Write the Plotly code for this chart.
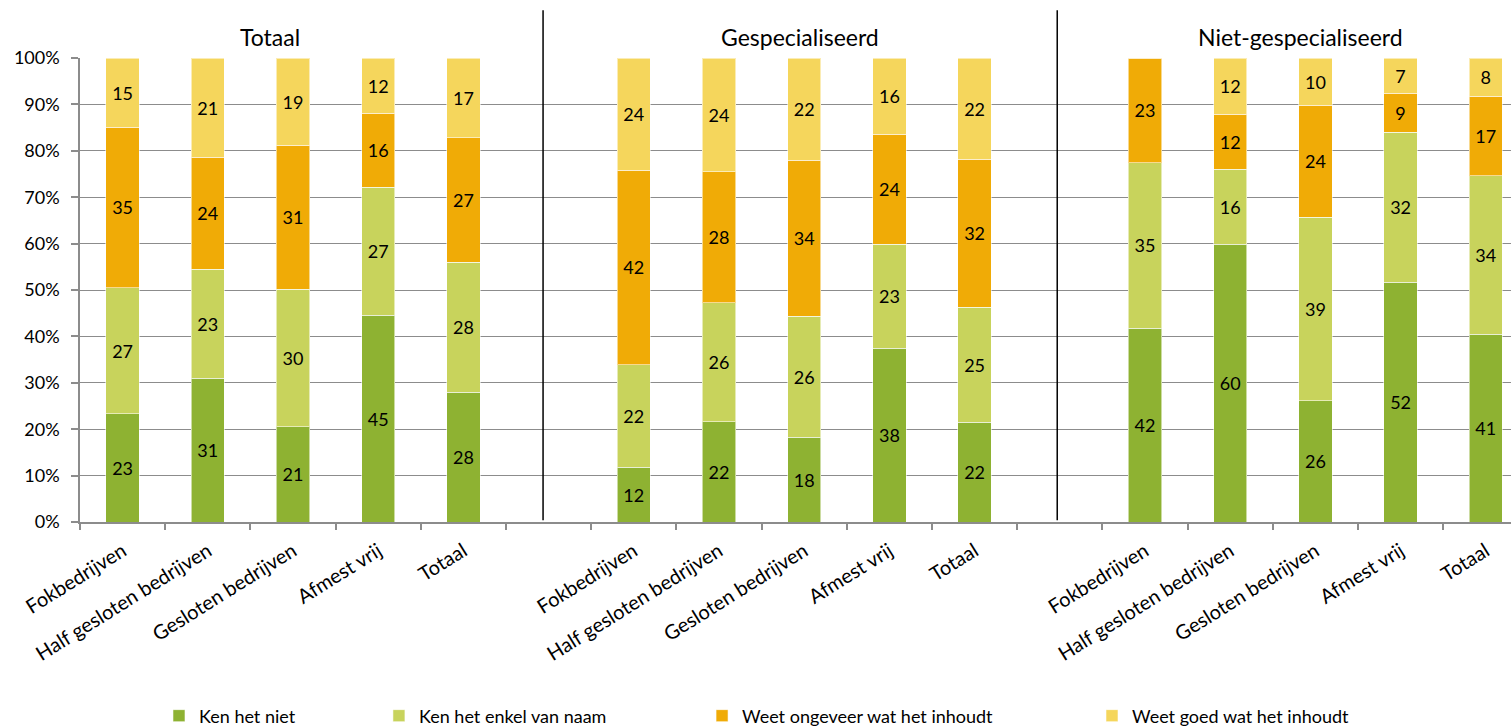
import plotly.graph_objects as go

# ---- data ----
groups = ["Totaal", "Gespecialiseerd", "Niet-gespecialiseerd"]
bedrijven = ["Fokbedrijven", "Half gesloten bedrijven", "Gesloten bedrijven", "Afmest vrij", "Totaal"]

series_names = ["Ken het niet", "Ken het enkel van naam", "Weet ongeveer wat het inhoudt", "Weet goed wat het inhoudt"]
series_colors = ["#8EB232", "#C8D35C", "#F0AB06", "#F5D65C"]

# values per group, order of bedrijven
ken_niet = {"Totaal": [23.3, 31.0, 20.5, 44.6, 28.0],
            "Gespecialiseerd": [11.8, 21.6, 18.3, 37.4, 21.5],
            "Niet-gespecialiseerd": [41.8, 59.9, 26.1, 51.7, 40.5]}
ken_naam = {"Totaal": [27.2, 23.5, 29.7, 27.5, 28.0],
            "Gespecialiseerd": [22.1, 25.7, 26.0, 22.5, 24.8],
            "Niet-gespecialiseerd": [35.6, 16.1, 39.6, 32.3, 34.1]}
weet_ong = {"Totaal": [34.6, 24.1, 31.0, 16.0, 26.8],
            "Gespecialiseerd": [41.9, 28.2, 33.7, 23.7, 31.9],
            "Niet-gespecialiseerd": [22.6, 11.9, 24.1, 8.4, 17.2]}
weet_goed = {"Totaal": [14.9, 21.4, 18.8, 11.9, 17.2],
             "Gespecialiseerd": [24.2, 24.5, 22.0, 16.4, 21.8],
             "Niet-gespecialiseerd": [0.0, 12.1, 10.2, 7.6, 8.2]}

# printed labels
lab_ken_niet = {"Totaal": ["23", "31", "21", "45", "28"],
                "Gespecialiseerd": ["12", "22", "18", "38", "22"],
                "Niet-gespecialiseerd": ["42", "60", "26", "52", "41"]}
lab_ken_naam = {"Totaal": ["27", "23", "30", "27", "28"],
                "Gespecialiseerd": ["22", "26", "26", "23", "25"],
                "Niet-gespecialiseerd": ["35", "16", "39", "32", "34"]}
lab_weet_ong = {"Totaal": ["35", "24", "31", "16", "27"],
                "Gespecialiseerd": ["42", "28", "34", "24", "32"],
                "Niet-gespecialiseerd": ["23", "12", "24", "9", "17"]}
lab_weet_goed = {"Totaal": ["15", "21", "19", "12", "17"],
                 "Gespecialiseerd": ["24", "24", "22", "16", "22"],
                 "Niet-gespecialiseerd": ["", "12", "10", "7", "8"]}

y_ticks = list(range(0, 101, 10))

# ---- build category slots (with empty gap slots between groups) ----
cats, ticktext = [], []
for gi, g in enumerate(groups):
    for b in bedrijven:
        cats.append(g + "|" + b)
        ticktext.append(b)
    if gi < len(groups) - 1:
        cats.append("gap%d" % gi)
        ticktext.append("")


def flatten(d):
    out = []
    for gi, g in enumerate(groups):
        out += d[g]
        if gi < len(groups) - 1:
            out.append(None)
    return out


def flatten_lab(d):
    out = []
    for gi, g in enumerate(groups):
        out += d[g]
        if gi < len(groups) - 1:
            out.append("")
    return out


series_vals = [ken_niet, ken_naam, weet_ong, weet_goed]
series_labs = [lab_ken_niet, lab_ken_naam, lab_weet_ong, lab_weet_goed]

FONT = "Lato, 'Open Sans', sans-serif"
fig = go.Figure()

legend_x = [0.0552, 0.2089, 0.4347, 0.7072]
for i, name in enumerate(series_names):
    fig.add_trace(go.Bar(
        x=cats, y=flatten(series_vals[i]), name=name,
        text=flatten_lab(series_labs[i]), textposition="inside",
        insidetextanchor="middle", textangle=0, constraintext="none",
        textfont=dict(family=FONT, size=18, color="#000000"),
        marker=dict(color=series_colors[i], line=dict(color="rgba(255,255,255,0.55)", width=1)),
        width=0.39, cliponaxis=False,
        legend="legend" if i == 0 else "legend%d" % (i + 1),
        hoverinfo="skip",
    ))

legend_common = dict(orientation="h", yanchor="middle", y=-0.418, xanchor="left",
                     font=dict(family=FONT, size=18, color="#000000"),
                     bgcolor="rgba(0,0,0,0)", itemwidth=30, tracegroupgap=0)
layout_legends = {}
for i in range(4):
    key = "legend" if i == 0 else "legend%d" % (i + 1)
    layout_legends[key] = dict(legend_common, x=legend_x[i])

fig.update_layout(
    width=1511, height=726,
    margin=dict(l=80, r=0, t=58, b=204, autoexpand=False),
    barmode="stack",
    plot_bgcolor="white", paper_bgcolor="white",
    font=dict(family=FONT, size=18, color="#000000"),
    showlegend=True,
    **layout_legends,
)

fig.update_xaxes(
    type="category", categoryorder="array", categoryarray=cats,
    tickmode="array", tickvals=cats, ticktext=ticktext,
    tickangle=-32, tickson="boundaries", ticks="outside", ticklen=6,
    tickcolor="#8C8C8C", tickwidth=1.5, ticklabelstandoff=8,
    showline=True, linecolor="#8C8C8C", linewidth=1.5,
    showgrid=False, range=[-0.5, 16.296],
    tickfont=dict(family=FONT, size=20, color="#000000"),
)
fig.update_yaxes(
    range=[0, 100.0005], tickvals=y_ticks, ticktext=["%d%%" % v for v in y_ticks],
    ticks="outside", ticklen=7, tickcolor="#8C8C8C", tickwidth=1.5,
    ticklabelstandoff=8,
    showline=True, linecolor="#8C8C8C", linewidth=1.5,
    showgrid=True, gridcolor="#8C8C8C", gridwidth=1.3,
    zeroline=False,
    tickfont=dict(family=FONT, size=18, color="#000000"),
)

# group separators
for xv in [4.935, 10.97]:
    fig.add_shape(type="line", xref="x", yref="paper", x0=xv, x1=xv, y0=0.004, y1=1.103,
                  line=dict(color="#000000", width=1.5), layer="above")

# group titles
title_x = [0.133, 0.503, 0.853]
for g, tx in zip(groups, title_x):
    fig.add_annotation(text=g, xref="paper", yref="paper", x=tx, y=1.046,
                       showarrow=False, xanchor="center", yanchor="middle",
                       font=dict(family=FONT, size=23, color="#000000"))

fig.write_html("out.html", config={"displayModeBar": False},
               post_script="document.body.style.margin='0';")
